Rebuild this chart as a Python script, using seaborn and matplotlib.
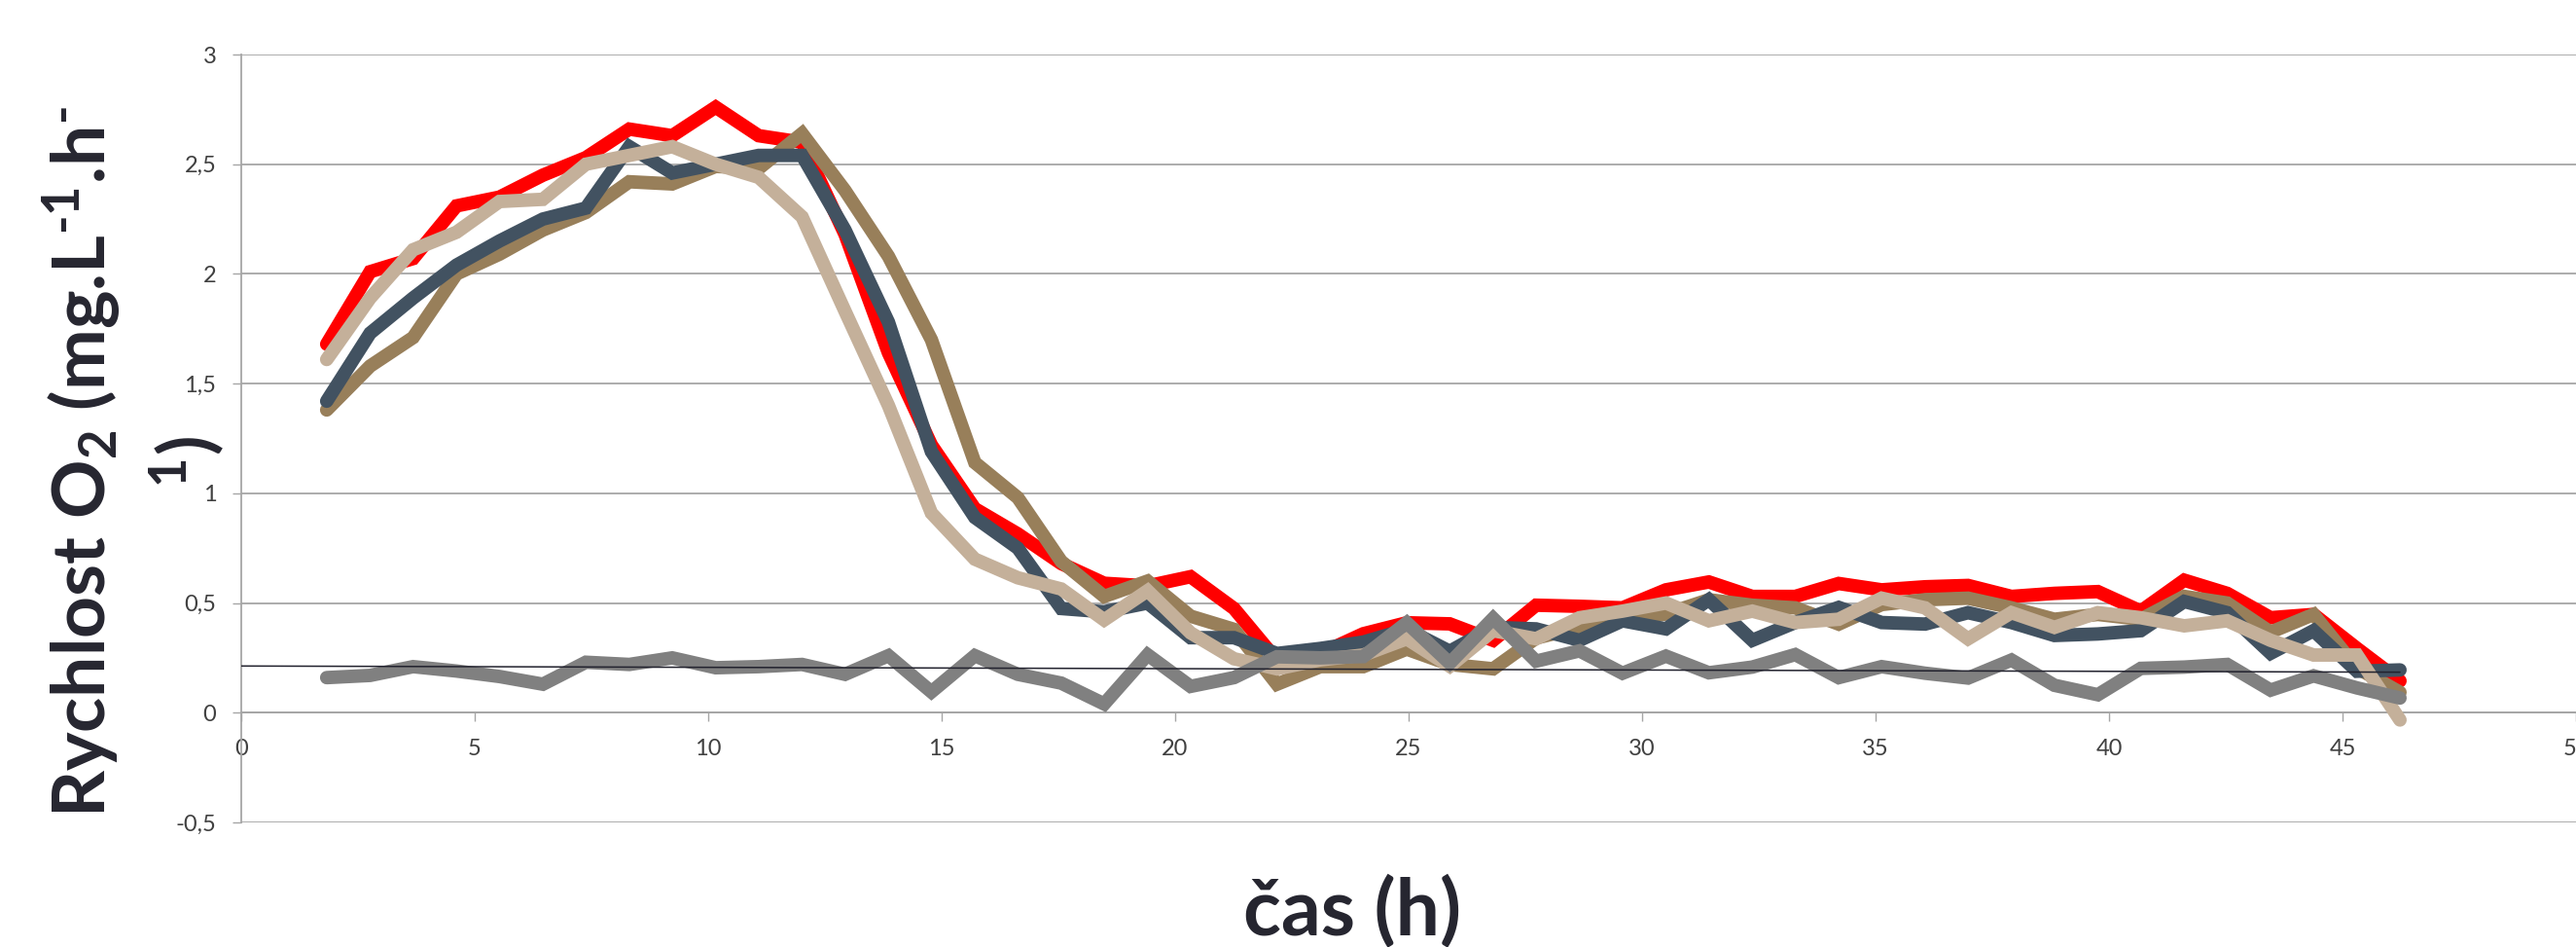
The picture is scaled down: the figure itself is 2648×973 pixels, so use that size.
import numpy as np
import pandas as pd
import seaborn as sns
import matplotlib.pyplot as plt
from matplotlib.mathtext import MathTextParser

# time points (h)
hours = [1.83, 2.76, 3.68, 4.61, 5.53, 6.46, 7.38, 8.31, 9.23, 10.16,
         11.08, 12.01, 12.93, 13.86, 14.78, 15.71, 16.63, 17.56, 18.48, 19.41,
         20.33, 21.26, 22.18, 23.11, 24.03, 24.96, 25.88, 26.81, 27.73, 28.66,
         29.58, 30.51, 31.43, 32.36, 33.28, 34.21, 35.13, 36.06, 36.98, 37.91,
         38.83, 39.76, 40.68, 41.61, 42.53, 43.46, 44.38, 45.31, 46.23]

red = [1.68, 2.01, 2.07, 2.31, 2.35, 2.45, 2.53, 2.66, 2.63, 2.76,
       2.63, 2.60, 2.18, 1.64, 1.22, 0.93, 0.815, 0.68, 0.59, 0.578,
       0.62, 0.475, 0.24, 0.27, 0.36, 0.41, 0.405, 0.33, 0.49, 0.485,
       0.478, 0.56, 0.596, 0.53, 0.53, 0.589, 0.56, 0.574, 0.58, 0.53,
       0.544, 0.552, 0.463, 0.604, 0.544, 0.433, 0.448, 0.293, 0.145]

brown = [1.38, 1.58, 1.71, 2.00, 2.09, 2.20, 2.28, 2.42, 2.41, 2.49,
         2.48, 2.64, 2.38, 2.08, 1.70, 1.14, 0.98, 0.69, 0.53, 0.60,
         0.44, 0.38, 0.13, 0.21, 0.21, 0.29, 0.22, 0.20, 0.34, 0.39,
         0.42, 0.45, 0.515, 0.49, 0.478, 0.404, 0.493, 0.515, 0.522, 0.478,
         0.426, 0.448, 0.426, 0.53, 0.50, 0.367, 0.448, 0.204, 0.093]

slate = [1.42, 1.73, 1.89, 2.04, 2.15, 2.25, 2.30, 2.58, 2.46, 2.50,
         2.54, 2.54, 2.20, 1.78, 1.19, 0.89, 0.75, 0.475, 0.46, 0.50,
         0.342, 0.342, 0.27, 0.293, 0.322, 0.38, 0.28, 0.389, 0.382, 0.33,
         0.419, 0.382, 0.515, 0.33, 0.411, 0.48, 0.411, 0.404, 0.456, 0.411,
         0.352, 0.359, 0.374, 0.507, 0.456, 0.271, 0.374, 0.189, 0.195]

tan = [1.61, 1.89, 2.11, 2.19, 2.33, 2.34, 2.50, 2.54, 2.58, 2.50,
       2.44, 2.26, 1.83, 1.40, 0.91, 0.70, 0.615, 0.564, 0.423, 0.556,
       0.364, 0.246, 0.20, 0.241, 0.263, 0.337, 0.212, 0.374, 0.337, 0.433,
       0.463, 0.50, 0.419, 0.463, 0.411, 0.426, 0.522, 0.478, 0.337, 0.456,
       0.389, 0.456, 0.433, 0.396, 0.419, 0.33, 0.263, 0.263, -0.033]

gray = [0.16, 0.17, 0.21, 0.19, 0.165, 0.13, 0.23, 0.22, 0.25, 0.205,
        0.21, 0.22, 0.175, 0.26, 0.095, 0.26, 0.175, 0.135, 0.04, 0.264,
        0.12, 0.16, 0.255, 0.25, 0.256, 0.41, 0.226, 0.43, 0.235, 0.282,
        0.18, 0.258, 0.182, 0.208, 0.265, 0.16, 0.21, 0.18, 0.158, 0.24,
        0.125, 0.082, 0.202, 0.208, 0.22, 0.103, 0.168, 0.113, 0.067]

x_ticks = [0, 5, 10, 15, 20, 25, 30, 35, 40, 45, 50]
y_ticks = [-0.5, 0, 0.5, 1, 1.5, 2, 2.5, 3]
y_tick_labels = ["-0,5", "0", "0,5", "1", "1,5", "2", "2,5", "3"]

series_order = ["1", "2", "3", "4", "5"]
series_colors = {"1": "#FF0000", "2": "#987F5A", "3": "#425261",
                 "4": "#C4B09A", "5": "#808080"}

df = pd.DataFrame({"cas": hours, "1": red, "2": brown, "3": slate,
                   "4": tan, "5": gray})
long_df = df.melt(id_vars="cas", var_name="serie", value_name="rychlost")

sns.set_theme(style="white")
plt.rcParams["font.family"] = ["Lato", "DejaVu Sans"]
plt.rcParams["mathtext.fontset"] = "custom"
plt.rcParams["mathtext.rm"] = "Lato:bold"
plt.rcParams["mathtext.it"] = "Lato:bold"
plt.rcParams["mathtext.bf"] = "Lato:bold"

# hyphen instead of the long math minus, if \text is supported
ylabel = "Rychlost O$_2$ (mg.L$^{\\text{-}1}$.h$^{\\text{-}}$\n$^{1}$)"
try:
    MathTextParser("path").parse(ylabel.split("\n")[0])
except Exception:
    ylabel = "Rychlost O$_2$ (mg.L$^{-1}$.h$^{-}$\n$^{1}$)"

fig = plt.figure(figsize=(26.48, 9.73), dpi=100)
ax = fig.add_axes([248 / 2648, 1 - 845 / 973, 2400 / 2648, 789 / 973])

sns.lineplot(data=long_df, x="cas", y="rychlost", hue="serie",
             hue_order=series_order, palette=series_colors, linewidth=10,
             legend=False, errorbar=None, sort=False, ax=ax,
             solid_capstyle="round", solid_joinstyle="miter", zorder=3)

# linear trend of the flat series
fit = np.polyfit(hours, gray, 1)
trend_x = np.array([0, hours[-1]])
sns.lineplot(x=trend_x, y=np.polyval(fit, trend_x), color="#22222E",
             linewidth=1.1, ax=ax, zorder=4)

ax.set_xlim(0, 50)
ax.set_ylim(-0.5, 3)
ax.set_xticks(x_ticks)
ax.set_yticks(y_ticks)
ax.set_yticklabels(y_tick_labels)

ax.yaxis.grid(True, color="#A6A6A6", linewidth=1.3)
ax.xaxis.grid(False)
ax.set_axisbelow(True)

for side in ["top", "right"]:
    ax.spines[side].set_visible(False)
ax.spines["bottom"].set_position(("data", 0))
ax.spines["bottom"].set_color("#A6A6A6")
ax.spines["bottom"].set_linewidth(1.3)
ax.spines["left"].set_color("#A6A6A6")
ax.spines["left"].set_linewidth(1.3)

ax.tick_params(axis="x", bottom=True, direction="out", length=6.5, width=1,
               color="#A6A6A6", pad=13, labelsize=17, labelcolor="#404040")
ax.tick_params(axis="y", left=True, direction="out", length=6.5, width=1,
               color="#A6A6A6", pad=12, labelsize=17, labelcolor="#404040")

ax.set_ylabel(ylabel, fontsize=54, fontweight="bold", color="#262630",
              rotation=90, ha="center", va="center", rotation_mode="default",
              linespacing=1.35)
ax.yaxis.set_label_coords(-0.046, 0.469)

ax.set_xlabel("čas (h)", fontsize=58, fontweight="bold", color="#262630",
              ha="center", va="center")
ax.xaxis.set_label_coords(0.476, -0.1166)

fig.savefig("out.png", dpi=100)
